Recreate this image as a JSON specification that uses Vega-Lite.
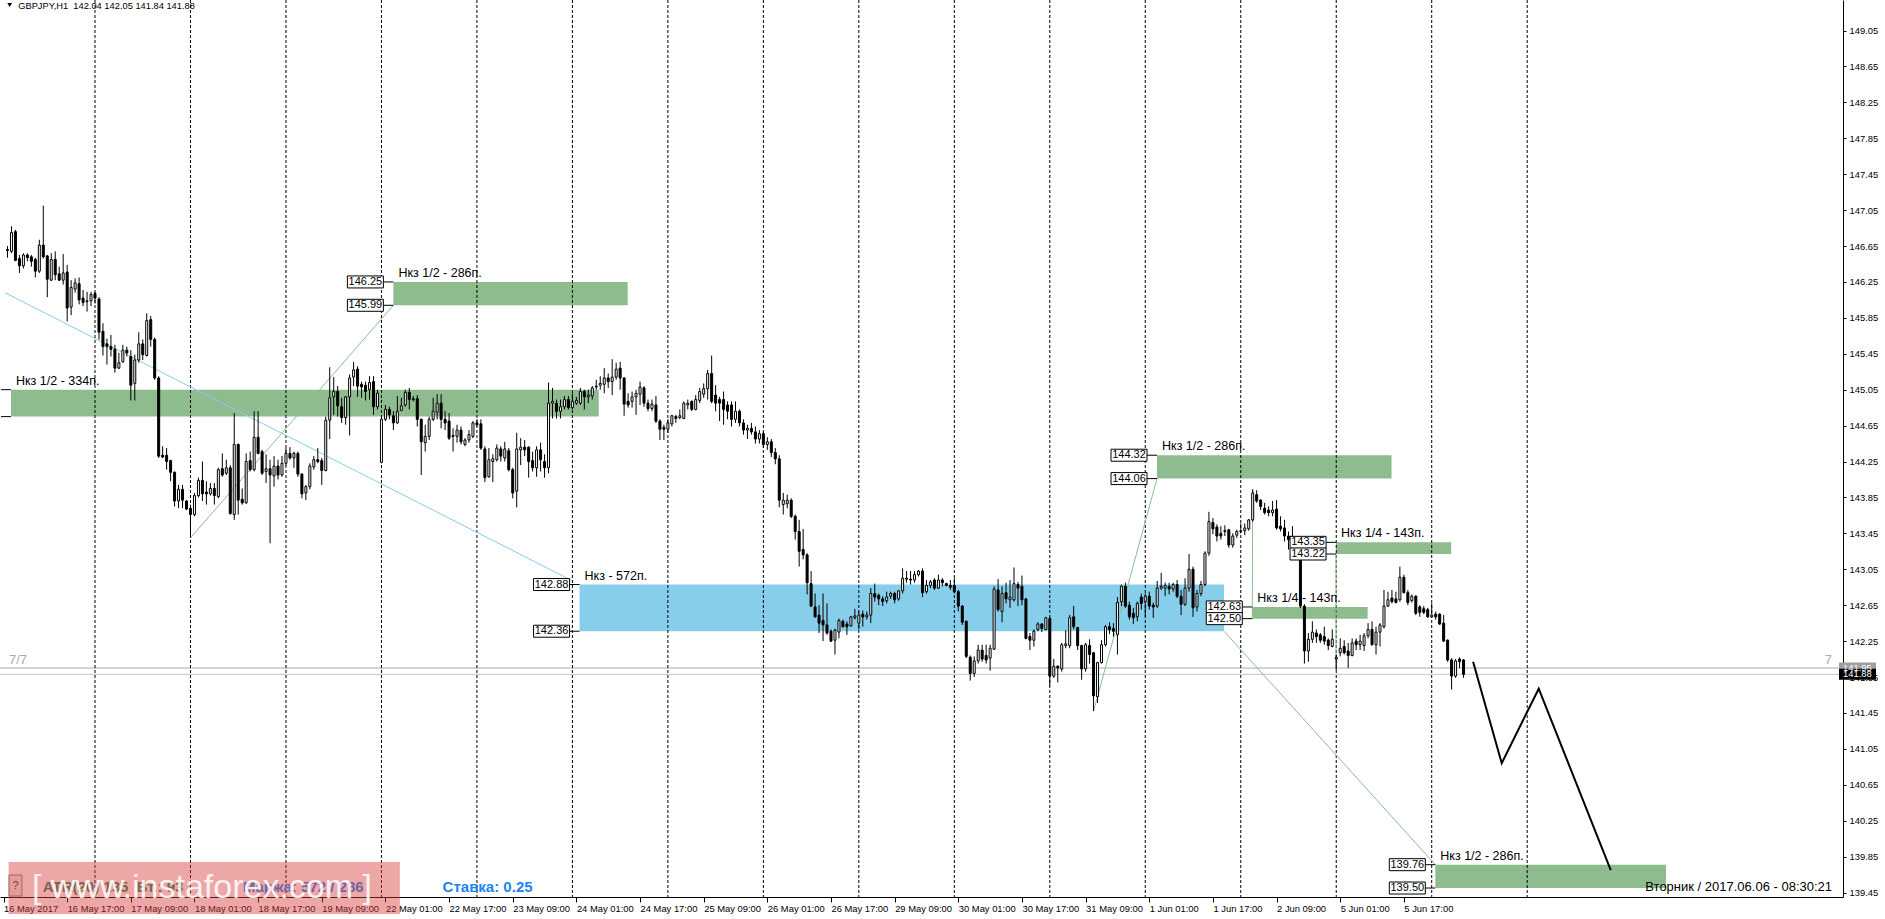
{
"$schema": "https://vega.github.io/schema/vega-lite/v6.json",
"width": 1843, "height": 897,
"autosize": {"type": "none"},
"padding": {"left": 0, "top": 0, "right": 42, "bottom": 22},
"background": "white",
"config": {"view": {"stroke": null}, "font": "Liberation Sans", "axis": {"labelOverlap": false, "labelFlush": false, "labelBound": false, "grid": false}},
"resolve": {"axis": {"x": "independent", "y": "independent"}},
"datasets": {
"candles": [
{"i":1,"o":146.61,"h":146.65,"l":146.52,"c":146.60},
{"i":2,"o":146.59,"h":146.87,"l":146.57,"c":146.80},
{"i":3,"o":146.81,"h":146.83,"l":146.48,"c":146.49},
{"i":4,"o":146.51,"h":146.55,"l":146.35,"c":146.43},
{"i":5,"o":146.43,"h":146.57,"l":146.40,"c":146.55},
{"i":6,"o":146.55,"h":146.57,"l":146.48,"c":146.52},
{"i":7,"o":146.53,"h":146.55,"l":146.42,"c":146.48},
{"i":8,"o":146.50,"h":146.52,"l":146.30,"c":146.37},
{"i":9,"o":146.37,"h":146.72,"l":146.35,"c":146.66},
{"i":10,"o":146.66,"h":147.10,"l":146.51,"c":146.53},
{"i":11,"o":146.54,"h":146.55,"l":146.08,"c":146.28},
{"i":12,"o":146.27,"h":146.57,"l":146.26,"c":146.50},
{"i":13,"o":146.50,"h":146.59,"l":146.27,"c":146.33},
{"i":14,"o":146.34,"h":146.42,"l":146.26,"c":146.27},
{"i":15,"o":146.27,"h":146.56,"l":146.22,"c":146.35},
{"i":16,"o":146.36,"h":146.44,"l":145.81,"c":145.96},
{"i":17,"o":145.97,"h":146.27,"l":145.88,"c":146.19},
{"i":18,"o":146.17,"h":146.29,"l":146.13,"c":146.24},
{"i":19,"o":146.23,"h":146.30,"l":146.00,"c":146.05},
{"i":20,"o":146.07,"h":146.16,"l":145.98,"c":146.02},
{"i":21,"o":146.03,"h":146.14,"l":145.92,"c":146.04},
{"i":22,"o":146.04,"h":146.14,"l":145.98,"c":146.11},
{"i":23,"o":146.12,"h":146.14,"l":146.01,"c":146.07},
{"i":24,"o":146.06,"h":146.08,"l":145.61,"c":145.69},
{"i":25,"o":145.70,"h":145.79,"l":145.43,"c":145.53},
{"i":26,"o":145.56,"h":145.62,"l":145.33,"c":145.53},
{"i":27,"o":145.53,"h":145.66,"l":145.42,"c":145.50},
{"i":28,"o":145.50,"h":145.55,"l":145.24,"c":145.29},
{"i":29,"o":145.29,"h":145.46,"l":145.28,"c":145.35},
{"i":30,"o":145.36,"h":145.55,"l":145.35,"c":145.49},
{"i":31,"o":145.49,"h":145.53,"l":145.42,"c":145.46},
{"i":32,"o":145.42,"h":145.49,"l":144.93,"c":145.10},
{"i":33,"o":145.12,"h":145.44,"l":144.93,"c":145.38},
{"i":34,"o":145.38,"h":145.69,"l":145.35,"c":145.56},
{"i":35,"o":145.56,"h":145.61,"l":145.38,"c":145.44},
{"i":36,"o":145.43,"h":145.90,"l":145.42,"c":145.82},
{"i":37,"o":145.83,"h":145.87,"l":145.53,"c":145.61},
{"i":38,"o":145.61,"h":145.63,"l":145.16,"c":145.18},
{"i":39,"o":145.18,"h":145.20,"l":144.29,"c":144.31},
{"i":40,"o":144.32,"h":144.42,"l":144.29,"c":144.30},
{"i":41,"o":144.32,"h":144.40,"l":144.16,"c":144.25},
{"i":42,"o":144.26,"h":144.27,"l":144.03,"c":144.13},
{"i":43,"o":144.13,"h":144.14,"l":143.75,"c":143.81},
{"i":44,"o":143.81,"h":143.99,"l":143.73,"c":143.94},
{"i":45,"o":143.94,"h":143.99,"l":143.73,"c":143.82},
{"i":46,"o":143.81,"h":143.82,"l":143.71,"c":143.72},
{"i":47,"o":143.73,"h":143.77,"l":143.40,"c":143.66},
{"i":48,"o":143.66,"h":143.90,"l":143.64,"c":143.87},
{"i":49,"o":143.87,"h":144.07,"l":143.85,"c":144.04},
{"i":50,"o":144.04,"h":144.25,"l":143.81,"c":143.89},
{"i":51,"o":143.91,"h":144.03,"l":143.77,"c":143.89},
{"i":52,"o":143.89,"h":144.01,"l":143.87,"c":143.95},
{"i":53,"o":143.95,"h":144.01,"l":143.77,"c":143.87},
{"i":54,"o":143.86,"h":144.18,"l":143.84,"c":144.16},
{"i":55,"o":144.17,"h":144.34,"l":144.08,"c":144.10},
{"i":56,"o":144.12,"h":144.27,"l":144.10,"c":144.18},
{"i":57,"o":144.18,"h":144.21,"l":143.66,"c":143.67},
{"i":58,"o":143.66,"h":144.79,"l":143.60,"c":144.44},
{"i":59,"o":144.44,"h":144.45,"l":143.66,"c":143.82},
{"i":60,"o":143.83,"h":143.95,"l":143.77,"c":143.79},
{"i":61,"o":143.79,"h":144.34,"l":143.78,"c":144.25},
{"i":62,"o":144.26,"h":144.36,"l":144.14,"c":144.16},
{"i":63,"o":144.16,"h":144.81,"l":144.14,"c":144.52},
{"i":64,"o":144.52,"h":144.81,"l":144.33,"c":144.34},
{"i":65,"o":144.36,"h":144.38,"l":144.10,"c":144.12},
{"i":66,"o":144.14,"h":144.33,"l":144.01,"c":144.17},
{"i":67,"o":144.17,"h":144.27,"l":143.34,"c":144.10},
{"i":68,"o":144.09,"h":144.31,"l":143.97,"c":144.20},
{"i":69,"o":144.20,"h":144.27,"l":144.05,"c":144.10},
{"i":70,"o":144.10,"h":144.31,"l":144.08,"c":144.23},
{"i":71,"o":144.23,"h":144.40,"l":144.20,"c":144.34},
{"i":72,"o":144.34,"h":144.41,"l":144.27,"c":144.29},
{"i":73,"o":144.29,"h":144.36,"l":144.18,"c":144.34},
{"i":74,"o":144.34,"h":144.36,"l":144.08,"c":144.11},
{"i":75,"o":144.11,"h":144.12,"l":143.84,"c":143.89},
{"i":76,"o":143.90,"h":143.99,"l":143.82,"c":143.97},
{"i":77,"o":143.97,"h":144.23,"l":143.94,"c":144.20},
{"i":78,"o":144.19,"h":144.31,"l":144.16,"c":144.27},
{"i":79,"o":144.27,"h":144.40,"l":144.23,"c":144.25},
{"i":80,"o":144.26,"h":144.29,"l":143.99,"c":144.15},
{"i":81,"o":144.15,"h":144.75,"l":144.14,"c":144.71},
{"i":82,"o":144.71,"h":145.30,"l":144.50,"c":144.96},
{"i":83,"o":144.97,"h":145.19,"l":144.77,"c":145.03},
{"i":84,"o":145.03,"h":145.09,"l":144.75,"c":144.87},
{"i":85,"o":144.86,"h":144.96,"l":144.68,"c":144.74},
{"i":86,"o":144.74,"h":144.98,"l":144.66,"c":144.97},
{"i":87,"o":144.97,"h":145.22,"l":144.54,"c":145.18},
{"i":88,"o":145.19,"h":145.36,"l":145.09,"c":145.27},
{"i":89,"o":145.28,"h":145.31,"l":144.97,"c":145.09},
{"i":90,"o":145.11,"h":145.14,"l":144.96,"c":145.08},
{"i":91,"o":145.10,"h":145.14,"l":144.93,"c":145.03},
{"i":92,"o":145.05,"h":145.20,"l":144.94,"c":145.13},
{"i":93,"o":145.14,"h":145.20,"l":144.77,"c":144.86},
{"i":94,"o":144.86,"h":145.05,"l":144.83,"c":145.01},
{"i":95,"o":144.24,"h":144.75,"l":144.23,"c":144.72},
{"i":96,"o":144.72,"h":144.88,"l":144.70,"c":144.83},
{"i":97,"o":144.83,"h":144.86,"l":144.72,"c":144.77},
{"i":98,"o":144.76,"h":144.81,"l":144.60,"c":144.68},
{"i":99,"o":144.68,"h":144.98,"l":144.67,"c":144.81},
{"i":100,"o":144.82,"h":144.96,"l":144.81,"c":144.87},
{"i":101,"o":144.88,"h":145.05,"l":144.86,"c":145.02},
{"i":102,"o":145.02,"h":145.07,"l":144.83,"c":144.94},
{"i":103,"o":144.94,"h":144.98,"l":144.92,"c":144.95},
{"i":104,"o":144.95,"h":144.99,"l":144.64,"c":144.72},
{"i":105,"o":144.72,"h":144.73,"l":144.10,"c":144.47},
{"i":106,"o":144.46,"h":144.66,"l":144.36,"c":144.53},
{"i":107,"o":144.53,"h":144.75,"l":144.49,"c":144.72},
{"i":108,"o":144.72,"h":144.96,"l":144.70,"c":144.81},
{"i":109,"o":144.80,"h":145.00,"l":144.72,"c":144.90},
{"i":110,"o":144.90,"h":145.00,"l":144.62,"c":144.72},
{"i":111,"o":144.72,"h":144.81,"l":144.60,"c":144.68},
{"i":112,"o":144.70,"h":144.79,"l":144.49,"c":144.51},
{"i":113,"o":144.54,"h":144.62,"l":144.36,"c":144.53},
{"i":114,"o":144.53,"h":144.66,"l":144.46,"c":144.60},
{"i":115,"o":144.60,"h":144.64,"l":144.44,"c":144.47},
{"i":116,"o":144.44,"h":144.51,"l":144.42,"c":144.49},
{"i":117,"o":144.49,"h":144.60,"l":144.46,"c":144.55},
{"i":118,"o":144.53,"h":144.70,"l":144.51,"c":144.68},
{"i":119,"o":144.68,"h":144.72,"l":144.64,"c":144.66},
{"i":120,"o":144.67,"h":144.72,"l":144.38,"c":144.40},
{"i":121,"o":144.39,"h":144.42,"l":144.02,"c":144.07},
{"i":122,"o":144.08,"h":144.40,"l":144.07,"c":144.27},
{"i":123,"o":144.25,"h":144.33,"l":144.02,"c":144.28},
{"i":124,"o":144.27,"h":144.44,"l":144.25,"c":144.40},
{"i":125,"o":144.39,"h":144.42,"l":144.25,"c":144.31},
{"i":126,"o":144.29,"h":144.47,"l":144.25,"c":144.39},
{"i":127,"o":144.37,"h":144.40,"l":144.14,"c":144.16},
{"i":128,"o":144.16,"h":144.18,"l":143.84,"c":143.90},
{"i":129,"o":143.92,"h":144.57,"l":143.74,"c":144.39},
{"i":130,"o":144.38,"h":144.51,"l":144.21,"c":144.41},
{"i":131,"o":144.41,"h":144.49,"l":144.31,"c":144.38},
{"i":132,"o":144.41,"h":144.42,"l":144.07,"c":144.25},
{"i":133,"o":144.26,"h":144.36,"l":144.14,"c":144.18},
{"i":134,"o":144.18,"h":144.42,"l":144.08,"c":144.38},
{"i":135,"o":144.38,"h":144.46,"l":144.14,"c":144.27},
{"i":136,"o":144.25,"h":144.33,"l":144.07,"c":144.18},
{"i":137,"o":144.18,"h":145.13,"l":144.12,"c":144.90},
{"i":138,"o":144.90,"h":145.07,"l":144.73,"c":144.92},
{"i":139,"o":144.90,"h":144.94,"l":144.73,"c":144.81},
{"i":140,"o":144.81,"h":144.94,"l":144.73,"c":144.86},
{"i":141,"o":144.86,"h":144.98,"l":144.83,"c":144.94},
{"i":142,"o":144.94,"h":144.98,"l":144.83,"c":144.85},
{"i":143,"o":144.85,"h":145.01,"l":144.83,"c":144.92},
{"i":144,"o":144.90,"h":144.97,"l":144.88,"c":144.93},
{"i":145,"o":144.90,"h":145.07,"l":144.88,"c":145.03},
{"i":146,"o":145.03,"h":145.05,"l":144.83,"c":144.97},
{"i":147,"o":144.97,"h":145.05,"l":144.90,"c":144.99},
{"i":148,"o":144.98,"h":145.09,"l":144.94,"c":145.07},
{"i":149,"o":145.08,"h":145.16,"l":145.05,"c":145.09},
{"i":150,"o":145.10,"h":145.20,"l":145.05,"c":145.12},
{"i":151,"o":145.11,"h":145.29,"l":145.01,"c":145.18},
{"i":152,"o":145.18,"h":145.23,"l":145.07,"c":145.14},
{"i":153,"o":145.14,"h":145.39,"l":144.99,"c":145.19},
{"i":154,"o":145.19,"h":145.35,"l":145.16,"c":145.28},
{"i":155,"o":145.29,"h":145.36,"l":145.05,"c":145.18},
{"i":156,"o":145.18,"h":145.19,"l":144.76,"c":144.89},
{"i":157,"o":144.92,"h":145.01,"l":144.85,"c":144.88},
{"i":158,"o":144.92,"h":145.03,"l":144.85,"c":144.97},
{"i":159,"o":144.97,"h":145.05,"l":144.77,"c":145.01},
{"i":160,"o":145.00,"h":145.14,"l":144.88,"c":145.08},
{"i":161,"o":145.07,"h":145.09,"l":144.86,"c":144.90},
{"i":162,"o":144.90,"h":144.94,"l":144.81,"c":144.84},
{"i":163,"o":144.84,"h":144.94,"l":144.81,"c":144.89},
{"i":164,"o":144.88,"h":144.98,"l":144.68,"c":144.70},
{"i":165,"o":144.70,"h":144.72,"l":144.49,"c":144.61},
{"i":166,"o":144.63,"h":144.66,"l":144.49,"c":144.61},
{"i":167,"o":144.61,"h":144.72,"l":144.57,"c":144.68},
{"i":168,"o":144.67,"h":144.77,"l":144.64,"c":144.76},
{"i":169,"o":144.75,"h":144.77,"l":144.68,"c":144.73},
{"i":170,"o":144.74,"h":144.83,"l":144.72,"c":144.76},
{"i":171,"o":144.73,"h":144.92,"l":144.72,"c":144.90},
{"i":172,"o":144.88,"h":144.94,"l":144.83,"c":144.90},
{"i":173,"o":144.92,"h":144.93,"l":144.81,"c":144.83},
{"i":174,"o":144.83,"h":144.99,"l":144.82,"c":144.94},
{"i":175,"o":144.93,"h":145.07,"l":144.90,"c":145.03},
{"i":176,"o":145.00,"h":145.12,"l":144.96,"c":145.06},
{"i":177,"o":145.06,"h":145.27,"l":144.94,"c":145.23},
{"i":178,"o":145.23,"h":145.43,"l":144.90,"c":144.92},
{"i":179,"o":144.99,"h":145.10,"l":144.81,"c":144.90},
{"i":180,"o":144.94,"h":144.97,"l":144.70,"c":144.90},
{"i":181,"o":144.94,"h":145.03,"l":144.66,"c":144.83},
{"i":182,"o":144.88,"h":144.92,"l":144.72,"c":144.81},
{"i":183,"o":144.88,"h":144.92,"l":144.64,"c":144.72},
{"i":184,"o":144.72,"h":144.92,"l":144.68,"c":144.81},
{"i":185,"o":144.81,"h":144.83,"l":144.64,"c":144.68},
{"i":186,"o":144.68,"h":144.72,"l":144.55,"c":144.60},
{"i":187,"o":144.60,"h":144.66,"l":144.50,"c":144.62},
{"i":188,"o":144.62,"h":144.68,"l":144.55,"c":144.58},
{"i":189,"o":144.58,"h":144.64,"l":144.45,"c":144.50},
{"i":190,"o":144.50,"h":144.60,"l":144.45,"c":144.56},
{"i":191,"o":144.56,"h":144.58,"l":144.40,"c":144.44},
{"i":192,"o":144.44,"h":144.52,"l":144.38,"c":144.47},
{"i":193,"o":144.47,"h":144.50,"l":144.30,"c":144.35},
{"i":194,"o":144.35,"h":144.40,"l":144.22,"c":144.28},
{"i":195,"o":144.28,"h":144.32,"l":143.74,"c":143.82},
{"i":196,"o":143.77,"h":143.90,"l":143.66,"c":143.82},
{"i":197,"o":143.78,"h":143.88,"l":143.73,"c":143.82},
{"i":198,"o":143.82,"h":143.84,"l":143.62,"c":143.64},
{"i":199,"o":143.64,"h":143.66,"l":143.38,"c":143.47},
{"i":200,"o":143.47,"h":143.60,"l":143.08,"c":143.25},
{"i":201,"o":143.27,"h":143.50,"l":143.16,"c":143.21},
{"i":202,"o":143.21,"h":143.23,"l":142.77,"c":142.90},
{"i":203,"o":142.89,"h":143.03,"l":142.63,"c":142.64},
{"i":204,"o":142.63,"h":142.78,"l":142.51,"c":142.52},
{"i":205,"o":142.54,"h":142.65,"l":142.34,"c":142.45},
{"i":206,"o":142.48,"h":142.78,"l":142.25,"c":142.43},
{"i":207,"o":142.43,"h":142.67,"l":142.32,"c":142.34},
{"i":208,"o":142.36,"h":142.38,"l":142.24,"c":142.25},
{"i":209,"o":142.26,"h":142.39,"l":142.10,"c":142.37},
{"i":210,"o":142.35,"h":142.50,"l":142.28,"c":142.48},
{"i":211,"o":142.47,"h":142.49,"l":142.40,"c":142.41},
{"i":212,"o":142.44,"h":142.47,"l":142.32,"c":142.41},
{"i":213,"o":142.42,"h":142.53,"l":142.41,"c":142.52},
{"i":214,"o":142.51,"h":142.61,"l":142.49,"c":142.53},
{"i":215,"o":142.45,"h":142.58,"l":142.38,"c":142.54},
{"i":216,"o":142.55,"h":142.59,"l":142.41,"c":142.52},
{"i":217,"o":142.52,"h":142.58,"l":142.49,"c":142.54},
{"i":218,"o":142.54,"h":142.84,"l":142.45,"c":142.78},
{"i":219,"o":142.78,"h":142.89,"l":142.69,"c":142.74},
{"i":220,"o":142.76,"h":142.78,"l":142.65,"c":142.72},
{"i":221,"o":142.72,"h":142.75,"l":142.64,"c":142.69},
{"i":222,"o":142.70,"h":142.80,"l":142.67,"c":142.74},
{"i":223,"o":142.75,"h":142.80,"l":142.72,"c":142.78},
{"i":224,"o":142.78,"h":142.80,"l":142.67,"c":142.71},
{"i":225,"o":142.72,"h":142.82,"l":142.70,"c":142.81},
{"i":226,"o":142.81,"h":143.06,"l":142.78,"c":142.95},
{"i":227,"o":142.95,"h":143.03,"l":142.90,"c":142.94},
{"i":228,"o":142.94,"h":143.03,"l":142.88,"c":142.93},
{"i":229,"o":142.93,"h":143.03,"l":142.90,"c":142.99},
{"i":230,"o":142.99,"h":143.04,"l":142.97,"c":143.03},
{"i":231,"o":143.03,"h":143.06,"l":142.74,"c":142.79},
{"i":232,"o":142.80,"h":142.93,"l":142.78,"c":142.87},
{"i":233,"o":142.87,"h":142.93,"l":142.84,"c":142.91},
{"i":234,"o":142.93,"h":142.95,"l":142.82,"c":142.84},
{"i":235,"o":142.84,"h":142.99,"l":142.83,"c":142.93},
{"i":236,"o":142.93,"h":142.95,"l":142.86,"c":142.90},
{"i":237,"o":142.89,"h":142.90,"l":142.86,"c":142.87},
{"i":238,"o":142.87,"h":142.93,"l":142.82,"c":142.85},
{"i":239,"o":142.87,"h":142.95,"l":142.78,"c":142.80},
{"i":240,"o":142.80,"h":142.82,"l":142.58,"c":142.64},
{"i":241,"o":142.64,"h":142.65,"l":142.43,"c":142.46},
{"i":242,"o":142.47,"h":142.48,"l":142.06,"c":142.08},
{"i":243,"o":142.07,"h":142.09,"l":141.81,"c":141.89},
{"i":244,"o":141.89,"h":142.08,"l":141.85,"c":142.03},
{"i":245,"o":142.03,"h":142.21,"l":142.00,"c":142.15},
{"i":246,"o":142.15,"h":142.21,"l":142.02,"c":142.05},
{"i":247,"o":142.09,"h":142.21,"l":142.00,"c":142.04},
{"i":248,"o":142.06,"h":142.21,"l":141.92,"c":142.17},
{"i":249,"o":142.16,"h":142.86,"l":142.15,"c":142.83},
{"i":250,"o":142.82,"h":142.94,"l":142.58,"c":142.60},
{"i":251,"o":142.58,"h":142.86,"l":142.46,"c":142.78},
{"i":252,"o":142.79,"h":142.90,"l":142.67,"c":142.72},
{"i":253,"o":142.71,"h":142.93,"l":142.62,"c":142.74},
{"i":254,"o":142.71,"h":143.07,"l":142.69,"c":142.89},
{"i":255,"o":142.88,"h":142.91,"l":142.64,"c":142.84},
{"i":256,"o":142.86,"h":142.98,"l":142.65,"c":142.71},
{"i":257,"o":142.72,"h":142.73,"l":142.27,"c":142.28},
{"i":258,"o":142.30,"h":142.34,"l":142.15,"c":142.26},
{"i":259,"o":142.26,"h":142.38,"l":142.19,"c":142.36},
{"i":260,"o":142.38,"h":142.46,"l":142.36,"c":142.44},
{"i":261,"o":142.44,"h":142.45,"l":142.35,"c":142.39},
{"i":262,"o":142.38,"h":142.52,"l":142.37,"c":142.51},
{"i":263,"o":142.50,"h":142.52,"l":141.75,"c":141.86},
{"i":264,"o":141.86,"h":142.05,"l":141.84,"c":141.97},
{"i":265,"o":141.97,"h":141.98,"l":141.79,"c":141.95},
{"i":266,"o":141.94,"h":142.23,"l":141.91,"c":142.21},
{"i":267,"o":142.20,"h":142.37,"l":142.17,"c":142.22},
{"i":268,"o":142.20,"h":142.54,"l":142.17,"c":142.51},
{"i":269,"o":142.52,"h":142.64,"l":142.38,"c":142.41},
{"i":270,"o":142.40,"h":142.41,"l":142.15,"c":142.20},
{"i":271,"o":142.20,"h":142.21,"l":141.82,"c":141.94},
{"i":272,"o":141.94,"h":142.23,"l":141.91,"c":142.21},
{"i":273,"o":142.20,"h":142.27,"l":142.00,"c":142.10},
{"i":274,"o":142.12,"h":142.13,"l":141.47,"c":141.64},
{"i":275,"o":141.63,"h":142.02,"l":141.56,"c":142.01},
{"i":276,"o":142.01,"h":142.26,"l":142.00,"c":142.21},
{"i":277,"o":142.21,"h":142.43,"l":142.19,"c":142.41},
{"i":278,"o":142.41,"h":142.46,"l":142.33,"c":142.38},
{"i":279,"o":142.39,"h":142.45,"l":142.30,"c":142.36},
{"i":280,"o":142.32,"h":142.74,"l":142.10,"c":142.68},
{"i":281,"o":142.69,"h":142.88,"l":142.64,"c":142.86},
{"i":282,"o":142.86,"h":142.90,"l":142.62,"c":142.64},
{"i":283,"o":142.65,"h":142.69,"l":142.49,"c":142.52},
{"i":284,"o":142.56,"h":142.62,"l":142.44,"c":142.51},
{"i":285,"o":142.52,"h":142.69,"l":142.47,"c":142.67},
{"i":286,"o":142.74,"h":142.78,"l":142.60,"c":142.67},
{"i":287,"o":142.69,"h":142.78,"l":142.52,"c":142.75},
{"i":288,"o":142.75,"h":142.80,"l":142.60,"c":142.64},
{"i":289,"o":142.65,"h":142.68,"l":142.51,"c":142.63},
{"i":290,"o":142.64,"h":142.92,"l":142.62,"c":142.84},
{"i":291,"o":142.84,"h":143.01,"l":142.82,"c":142.86},
{"i":292,"o":142.84,"h":142.90,"l":142.75,"c":142.87},
{"i":293,"o":142.86,"h":142.90,"l":142.77,"c":142.83},
{"i":294,"o":142.83,"h":142.90,"l":142.80,"c":142.88},
{"i":295,"o":142.88,"h":142.93,"l":142.73,"c":142.75},
{"i":296,"o":142.75,"h":142.82,"l":142.54,"c":142.66},
{"i":297,"o":142.66,"h":142.95,"l":142.64,"c":142.84},
{"i":298,"o":142.84,"h":143.22,"l":142.80,"c":143.05},
{"i":299,"o":143.05,"h":143.08,"l":142.52,"c":142.62},
{"i":300,"o":142.63,"h":142.82,"l":142.58,"c":142.78},
{"i":301,"o":142.78,"h":142.92,"l":142.75,"c":142.88},
{"i":302,"o":142.88,"h":143.25,"l":142.86,"c":143.23},
{"i":303,"o":143.23,"h":143.69,"l":143.20,"c":143.58},
{"i":304,"o":143.57,"h":143.62,"l":143.44,"c":143.50},
{"i":305,"o":143.52,"h":143.55,"l":143.36,"c":143.42},
{"i":306,"o":143.45,"h":143.53,"l":143.38,"c":143.42},
{"i":307,"o":143.48,"h":143.54,"l":143.42,"c":143.47},
{"i":308,"o":143.49,"h":143.50,"l":143.29,"c":143.32},
{"i":309,"o":143.32,"h":143.45,"l":143.29,"c":143.42},
{"i":310,"o":143.43,"h":143.49,"l":143.40,"c":143.47},
{"i":311,"o":143.47,"h":143.56,"l":143.45,"c":143.48},
{"i":312,"o":143.48,"h":143.56,"l":143.43,"c":143.51},
{"i":313,"o":143.50,"h":143.61,"l":143.48,"c":143.60},
{"i":314,"o":143.60,"h":143.94,"l":143.58,"c":143.90},
{"i":315,"o":143.88,"h":143.93,"l":143.79,"c":143.81},
{"i":316,"o":143.82,"h":143.83,"l":143.71,"c":143.75},
{"i":317,"o":143.73,"h":143.79,"l":143.66,"c":143.68},
{"i":318,"o":143.71,"h":143.75,"l":143.64,"c":143.68},
{"i":319,"o":143.68,"h":143.81,"l":143.64,"c":143.71},
{"i":320,"o":143.72,"h":143.82,"l":143.49,"c":143.51},
{"i":321,"o":143.53,"h":143.64,"l":143.47,"c":143.50},
{"i":322,"o":143.51,"h":143.60,"l":143.36,"c":143.42},
{"i":323,"o":143.42,"h":143.47,"l":143.27,"c":143.38},
{"i":324,"o":143.41,"h":143.53,"l":143.27,"c":143.30},
{"i":325,"o":143.32,"h":143.36,"l":143.25,"c":143.29},
{"i":326,"o":143.29,"h":143.32,"l":142.62,"c":142.64},
{"i":327,"o":142.64,"h":142.66,"l":142.00,"c":142.14},
{"i":328,"o":142.14,"h":142.34,"l":142.02,"c":142.27},
{"i":329,"o":142.27,"h":142.47,"l":142.23,"c":142.35},
{"i":330,"o":142.34,"h":142.38,"l":142.23,"c":142.30},
{"i":331,"o":142.32,"h":142.34,"l":142.23,"c":142.26},
{"i":332,"o":142.30,"h":142.41,"l":142.21,"c":142.25},
{"i":333,"o":142.26,"h":142.28,"l":142.15,"c":142.20},
{"i":334,"o":142.19,"h":142.38,"l":142.18,"c":142.27},
{"i":335,"o":142.05,"h":142.10,"l":141.93,"c":142.07},
{"i":336,"o":142.12,"h":142.28,"l":142.08,"c":142.17},
{"i":337,"o":142.19,"h":142.26,"l":142.10,"c":142.12},
{"i":338,"o":142.14,"h":142.23,"l":141.95,"c":142.09},
{"i":339,"o":142.09,"h":142.28,"l":142.08,"c":142.23},
{"i":340,"o":142.25,"h":142.28,"l":142.15,"c":142.21},
{"i":341,"o":142.21,"h":142.32,"l":142.15,"c":142.25},
{"i":342,"o":142.20,"h":142.34,"l":142.14,"c":142.31},
{"i":343,"o":142.31,"h":142.45,"l":142.28,"c":142.38},
{"i":344,"o":142.38,"h":142.47,"l":142.20,"c":142.21},
{"i":345,"o":142.21,"h":142.41,"l":142.10,"c":142.35},
{"i":346,"o":142.35,"h":142.45,"l":142.19,"c":142.43},
{"i":347,"o":142.41,"h":142.82,"l":142.39,"c":142.64},
{"i":348,"o":142.64,"h":142.80,"l":142.63,"c":142.71},
{"i":349,"o":142.73,"h":142.82,"l":142.67,"c":142.69},
{"i":350,"o":142.72,"h":142.80,"l":142.67,"c":142.68},
{"i":351,"o":142.71,"h":143.08,"l":142.69,"c":142.96},
{"i":352,"o":142.96,"h":142.99,"l":142.78,"c":142.79},
{"i":353,"o":142.79,"h":142.82,"l":142.65,"c":142.68},
{"i":354,"o":142.70,"h":142.77,"l":142.68,"c":142.75},
{"i":355,"o":142.75,"h":142.76,"l":142.54,"c":142.56},
{"i":356,"o":142.63,"h":142.65,"l":142.52,"c":142.57},
{"i":357,"o":142.61,"h":142.64,"l":142.55,"c":142.57},
{"i":358,"o":142.60,"h":142.62,"l":142.51,"c":142.52},
{"i":359,"o":142.52,"h":142.67,"l":142.51,"c":142.54},
{"i":360,"o":142.55,"h":142.58,"l":142.49,"c":142.52},
{"i":361,"o":142.55,"h":142.56,"l":142.43,"c":142.44},
{"i":362,"o":142.45,"h":142.54,"l":142.24,"c":142.25},
{"i":363,"o":142.26,"h":142.27,"l":142.02,"c":142.04},
{"i":364,"o":142.04,"h":142.06,"l":141.71,"c":141.86},
{"i":365,"o":141.86,"h":142.05,"l":141.84,"c":142.03},
{"i":366,"o":142.05,"h":142.07,"l":141.95,"c":142.02},
{"i":367,"o":142.04,"h":142.05,"l":141.84,"c":141.88}
],
"zones": [
{"i":1.875,"i2":149.625,"p":145.05,"p2":144.75,"k":"g"},
{"i":98.0,"i2":156.9,"p":146.25,"p2":145.99,"k":"g"},
{"i":144.8,"i2":306.8,"p":142.88,"p2":142.36,"k":"b"},
{"i":289.95,"i2":348.9,"p":144.32,"p2":144.06,"k":"g"},
{"i":334.95,"i2":363.9,"p":143.35,"p2":143.22,"k":"g"},
{"i":313.9,"i2":342.9,"p":142.63,"p2":142.50,"k":"g"},
{"i":359.9,"i2":417.9,"p":139.76,"p2":139.50,"k":"g"}
],
"zoneLabels": [
{"i":1.875,"p":145.05,"t":"Нкз 1/2 - 334п."},
{"i":98.0,"p":146.25,"t":"Нкз 1/2 - 286п."},
{"i":144.8,"p":142.88,"t":"Нкз - 572п."},
{"i":289.95,"p":144.32,"t":"Нкз 1/2 - 286п."},
{"i":334.95,"p":143.35,"t":"Нкз 1/4 - 143п."},
{"i":313.9,"p":142.63,"t":"Нкз 1/4 - 143п."},
{"i":359.9,"p":139.76,"t":"Нкз 1/2 - 286п."}
],
"boxes": [
{"i":1.875,"p":145.05},{"i":1.875,"p":144.75},
{"i":98.0,"p":146.25},{"i":98.0,"p":145.99},
{"i":144.8,"p":142.88},{"i":144.8,"p":142.36},
{"i":289.95,"p":144.32},{"i":289.95,"p":144.06},
{"i":313.9,"p":142.63},{"i":313.9,"p":142.50},
{"i":334.95,"p":143.35},{"i":334.95,"p":143.22},
{"i":359.9,"p":139.76},{"i":359.9,"p":139.50}
],
"seps": [{"i":23},{"i":47},{"i":71},{"i":95},{"i":119},{"i":143},{"i":167},{"i":191},{"i":215},{"i":239},{"i":263},{"i":287},{"i":311},{"i":335},{"i":359},{"i":383}],
"lines": [
{"id":"blue","o":0,"i":0.375,"p":146.13},{"id":"blue","o":1,"i":142.6,"p":142.93},
{"id":"g1","o":0,"i":47,"p":143.40},{"id":"g1","o":1,"i":98.0,"p":145.99},
{"id":"g2","o":0,"i":274,"p":141.47},{"id":"g2","o":1,"i":289.95,"p":144.06},
{"id":"g3","o":0,"i":314,"p":143.94},{"id":"g3","o":1,"i":313.9,"p":142.50},
{"id":"g4","o":0,"i":334.95,"p":143.22},{"id":"g4","o":1,"i":334.95,"p":141.93},
{"id":"g5","o":0,"i":306.8,"p":142.36},{"id":"g5","o":1,"i":359.9,"p":139.76},
{"id":"proj","o":0,"i":369.4,"p":142.02},{"id":"proj","o":1,"i":376.6,"p":140.89},{"id":"proj","o":2,"i":385.9,"p":141.72},{"id":"proj","o":3,"i":404.0,"p":139.70}
],
"hlines": [{"p":141.95,"k":"ask"},{"p":141.88,"k":"bid"}],
"tags": [{"i":461.125,"p":141.95,"k":"ask"},{"i":461.125,"p":141.88,"k":"bid"}],
"notes": [
{"k":"title","i":3.7,"p":149.32,"t":"GBPJPY,H1\u00a0 142.04 142.05 141.84 141.88"},
{"k":"tri","i":1.55,"p":149.335,"t":""},
{"k":"sevenL","i":1.375,"p":142.0,"t":"7/7"},
{"k":"sevenR","i":459.625,"p":142.0,"t":"7"},
{"k":"qbox","i":1.375,"i2":4.625,"p":139.645,"p2":139.411,"t":""},
{"k":"q","i":3.0,"p":139.528,"t":"?"},
{"k":"atr","i":9.875,"p":139.511,"t":"ATR(20) 135\u00a0 Вт.: 93"},
{"k":"marzha","i":60.125,"p":139.511,"t":"Маржа: 572 / 286"},
{"k":"stavka","i":110.375,"p":139.511,"t":"Ставка: 0.25"},
{"k":"date","i":459.625,"p":139.467,"t":"Вторник / 2017.06.06 - 08:30:21"},
{"k":"wm","i":1.275,"i2":99.625,"p":139.79,"p2":139.211,"t":""},
{"k":"wmt","i":49.875,"p":139.502,"t":"[ www.instaforex.com ]"}
]
},
"layer": [
{"data":{"name":"zones"},"mark":{"type":"rect","clip":true,"color":"#8fbc8f"},
 "transform":[{"filter":"datum.k == 'g'"}],
 "encoding":{
  "x":{"field":"i","type":"quantitative","title":null,"scale":{"domain":[0.375,461.125],"nice":false,"zero":false},
   "axis":{"title":null,"orient":"bottom","values":[0,16,32,48,64,80,96,112,128,144,160,176,192,208,224,240,256,272,288,304,320,336,352],
    "labelExpr":"['16 May 2017','16 May 17:00','17 May 09:00','18 May 01:00','18 May 17:00','19 May 09:00','22 May 01:00','22 May 17:00','23 May 09:00','24 May 01:00','24 May 17:00','25 May 09:00','26 May 01:00','26 May 17:00','29 May 09:00','30 May 01:00','30 May 17:00','31 May 09:00','1 Jun 01:00','1 Jun 17:00','2 Jun 09:00','5 Jun 01:00','5 Jun 17:00'][round(datum.value/16)]",
    "labelAlign":"left","labelDx":1,"labelPadding":2,"labelBaseline":"top","labelFont":"Liberation Sans","labelFontSize":9.4,"labelColor":"#000","tickColor":"#000","tickSize":5,"domainColor":"#000","grid":false,"labelOverlap":false,"labelFlush":false,"labelBound":false}},
  "x2":{"field":"i2"},
  "y":{"field":"p","type":"quantitative","title":null,"scale":{"domain":[139.40,149.39],"nice":false,"zero":false},
   "axis":{"title":null,"orient":"right","values":[139.45,139.85,140.25,140.65,141.05,141.45,141.85,142.25,142.65,143.05,143.45,143.85,144.25,144.65,145.05,145.45,145.85,146.25,146.65,147.05,147.45,147.85,148.25,148.65,149.05],
    "format":".2f","labelFont":"Liberation Sans","labelFontSize":9.4,"labelColor":"#000","tickColor":"#000","tickSize":3,"labelPadding":3,"domainColor":"#000","grid":false,"labelOverlap":false,"labelFlush":false,"labelBound":false}},
  "y2":{"field":"p2"}}},
{"data":{"name":"zones"},"mark":{"type":"rect","clip":true,"color":"#87ceeb"},
 "transform":[{"filter":"datum.k == 'b'"}],
 "encoding":{
  "x":{"field":"i","type":"quantitative","axis":null,"scale":{"domain":[0.375,461.125],"nice":false,"zero":false}},
  "x2":{"field":"i2"},
  "y":{"field":"p","type":"quantitative","axis":null,"scale":{"domain":[139.40,149.39],"nice":false,"zero":false}},
  "y2":{"field":"p2"}}},
{"data":{"name":"hlines"},"mark":{"type":"rule","clip":true,"strokeWidth":1},
 "encoding":{
  "y":{"field":"p","type":"quantitative","axis":null,"scale":{"domain":[139.40,149.39],"nice":false,"zero":false}},
  "color":{"condition":{"test":"datum.k == 'ask'","value":"#a9a9a9"},"value":"#c4c4c4"}}},
{"data":{"name":"seps"},"mark":{"type":"rule","clip":true,"color":"#000","strokeWidth":1,"strokeDash":[3,2]},
 "encoding":{
  "x":{"field":"i","type":"quantitative","axis":null,"scale":{"domain":[0.375,461.125],"nice":false,"zero":false}}}},
{"data":{"name":"lines"},"mark":{"type":"line","clip":true,"strokeWidth":1,"color":"#87ceeb"},
 "transform":[{"filter":"datum.id == 'blue'"}],
 "encoding":{
  "x":{"field":"i","type":"quantitative","axis":null,"scale":{"domain":[0.375,461.125],"nice":false,"zero":false}},
  "y":{"field":"p","type":"quantitative","axis":null,"scale":{"domain":[139.40,149.39],"nice":false,"zero":false}},
  "detail":{"field":"id"},"order":{"field":"o"}}},
{"data":{"name":"lines"},"mark":{"type":"line","clip":true,"strokeWidth":1,"color":"#8fbc8f"},
 "transform":[{"filter":"datum.id != 'blue' && datum.id != 'proj'"}],
 "encoding":{
  "x":{"field":"i","type":"quantitative","axis":null,"scale":{"domain":[0.375,461.125],"nice":false,"zero":false}},
  "y":{"field":"p","type":"quantitative","axis":null,"scale":{"domain":[139.40,149.39],"nice":false,"zero":false}},
  "detail":{"field":"id"},"order":{"field":"o"}}},
{"data":{"name":"candles"},"mark":{"type":"rule","clip":true,"color":"#000","strokeWidth":1},
 "encoding":{
  "x":{"field":"i","type":"quantitative","axis":null,"scale":{"domain":[0.375,461.125],"nice":false,"zero":false}},
  "y":{"field":"l","type":"quantitative","axis":null,"scale":{"domain":[139.40,149.39],"nice":false,"zero":false}},
  "y2":{"field":"h"}}},
{"data":{"name":"candles"},"mark":{"type":"bar","clip":true,"width":2,"stroke":"#000","strokeWidth":1},
 "encoding":{
  "x":{"field":"i","type":"quantitative","axis":null,"scale":{"domain":[0.375,461.125],"nice":false,"zero":false}},
  "y":{"field":"o","type":"quantitative","axis":null,"scale":{"domain":[139.40,149.39],"nice":false,"zero":false}},
  "y2":{"field":"c"},
  "color":{"condition":{"test":"datum.c >= datum.o","value":"#ffffff"},"value":"#000000"}}},
{"data":{"name":"lines"},"mark":{"type":"line","clip":true,"strokeWidth":2,"color":"#000"},
 "transform":[{"filter":"datum.id == 'proj'"}],
 "encoding":{
  "x":{"field":"i","type":"quantitative","axis":null,"scale":{"domain":[0.375,461.125],"nice":false,"zero":false}},
  "y":{"field":"p","type":"quantitative","axis":null,"scale":{"domain":[139.40,149.39],"nice":false,"zero":false}},
  "order":{"field":"o"}}},
{"data":{"name":"boxes"},"mark":{"type":"rule","clip":true,"color":"#000","strokeWidth":1,"xOffset":-10,"x2Offset":0},
 "encoding":{
  "x":{"field":"i","type":"quantitative","axis":null,"scale":{"domain":[0.375,461.125],"nice":false,"zero":false}},
  "x2":{"field":"i"},
  "y":{"field":"p","type":"quantitative","axis":null,"scale":{"domain":[139.40,149.39],"nice":false,"zero":false}}}},
{"data":{"name":"boxes"},"transform":[{"filter":"datum.i > 10"}],"mark":{"type":"rect","clip":true,"fill":"#ffffff","stroke":"#000","strokeWidth":1,"xOffset":-46,"x2Offset":-10,"yOffset":-6,"y2Offset":6},
 "encoding":{
  "x":{"field":"i","type":"quantitative","axis":null,"scale":{"domain":[0.375,461.125],"nice":false,"zero":false}},
  "x2":{"field":"i"},
  "y":{"field":"p","type":"quantitative","axis":null,"scale":{"domain":[139.40,149.39],"nice":false,"zero":false}},
  "y2":{"field":"p"}}},
{"data":{"name":"boxes"},"transform":[{"filter":"datum.i > 10"}],"mark":{"type":"text","clip":true,"dx":-28,"align":"center","baseline":"middle","font":"Liberation Sans","fontSize":11,"color":"#000"},
 "encoding":{
  "x":{"field":"i","type":"quantitative","axis":null,"scale":{"domain":[0.375,461.125],"nice":false,"zero":false}},
  "y":{"field":"p","type":"quantitative","axis":null,"scale":{"domain":[139.40,149.39],"nice":false,"zero":false}},
  "text":{"field":"p","format":".2f"}}},
{"data":{"name":"zoneLabels"},"mark":{"type":"text","clip":true,"dx":5,"dy":-5,"align":"left","baseline":"alphabetic","font":"Liberation Sans","fontSize":12.5,"color":"#000"},
 "encoding":{
  "x":{"field":"i","type":"quantitative","axis":null,"scale":{"domain":[0.375,461.125],"nice":false,"zero":false}},
  "y":{"field":"p","type":"quantitative","axis":null,"scale":{"domain":[139.40,149.39],"nice":false,"zero":false}},
  "text":{"field":"t"}}},
{"data":{"name":"tags"},"mark":{"type":"rect","xOffset":1,"x2Offset":38,"yOffset":-5.5,"y2Offset":5.5},
 "encoding":{
  "x":{"field":"i","type":"quantitative","axis":null,"scale":{"domain":[0.375,461.125],"nice":false,"zero":false}},
  "x2":{"field":"i"},
  "y":{"field":"p","type":"quantitative","axis":null,"scale":{"domain":[139.40,149.39],"nice":false,"zero":false}},
  "y2":{"field":"p"},
  "color":{"condition":{"test":"datum.k == 'ask'","value":"#a0a0a0"},"value":"#000000"}}},
{"data":{"name":"tags"},"mark":{"type":"text","dx":5,"align":"left","baseline":"middle","font":"Liberation Sans","fontSize":9.4,"color":"#ffffff"},
 "encoding":{
  "x":{"field":"i","type":"quantitative","axis":null,"scale":{"domain":[0.375,461.125],"nice":false,"zero":false}},
  "y":{"field":"p","type":"quantitative","axis":null,"scale":{"domain":[139.40,149.39],"nice":false,"zero":false}},
  "text":{"field":"p","format":".2f"}}},
{"data":{"name":"notes"},"transform":[{"filter":"datum.k == 'title'"}],"mark":{"type":"text","align":"left","baseline":"middle","font":"Liberation Sans","fontSize":9.3,"color":"#000"},
 "encoding":{
  "x":{"field":"i","type":"quantitative","axis":null,"scale":{"domain":[0.375,461.125],"nice":false,"zero":false}},
  "y":{"field":"p","type":"quantitative","axis":null,"scale":{"domain":[139.40,149.39],"nice":false,"zero":false}},
  "text":{"field":"t"}}},
{"data":{"name":"notes"},"transform":[{"filter":"datum.k == 'tri'"}],"mark":{"type":"point","shape":"triangle-down","filled":true,"size":22,"color":"#000","opacity":1},
 "encoding":{
  "x":{"field":"i","type":"quantitative","axis":null,"scale":{"domain":[0.375,461.125],"nice":false,"zero":false}},
  "y":{"field":"p","type":"quantitative","axis":null,"scale":{"domain":[139.40,149.39],"nice":false,"zero":false}}}},
{"data":{"name":"notes"},"transform":[{"filter":"datum.k == 'sevenL'"}],"mark":{"type":"text","align":"left","baseline":"alphabetic","font":"Liberation Sans","fontSize":13,"color":"#a9a9a9"},
 "encoding":{
  "x":{"field":"i","type":"quantitative","axis":null,"scale":{"domain":[0.375,461.125],"nice":false,"zero":false}},
  "y":{"field":"p","type":"quantitative","axis":null,"scale":{"domain":[139.40,149.39],"nice":false,"zero":false}},
  "text":{"field":"t"}}},
{"data":{"name":"notes"},"transform":[{"filter":"datum.k == 'sevenR'"}],"mark":{"type":"text","align":"right","baseline":"alphabetic","font":"Liberation Sans","fontSize":13,"color":"#a9a9a9"},
 "encoding":{
  "x":{"field":"i","type":"quantitative","axis":null,"scale":{"domain":[0.375,461.125],"nice":false,"zero":false}},
  "y":{"field":"p","type":"quantitative","axis":null,"scale":{"domain":[139.40,149.39],"nice":false,"zero":false}},
  "text":{"field":"t"}}},
{"data":{"name":"notes"},"transform":[{"filter":"datum.k == 'qbox'"}],"mark":{"type":"rect","fill":"#ececec","stroke":"#808080","strokeWidth":1},
 "encoding":{
  "x":{"field":"i","type":"quantitative","axis":null,"scale":{"domain":[0.375,461.125],"nice":false,"zero":false}},
  "x2":{"field":"i2"},
  "y":{"field":"p","type":"quantitative","axis":null,"scale":{"domain":[139.40,149.39],"nice":false,"zero":false}},
  "y2":{"field":"p2"}}},
{"data":{"name":"notes"},"transform":[{"filter":"datum.k == 'q'"}],"mark":{"type":"text","align":"center","baseline":"middle","font":"Liberation Sans","fontSize":11,"color":"#333333"},
 "encoding":{
  "x":{"field":"i","type":"quantitative","axis":null,"scale":{"domain":[0.375,461.125],"nice":false,"zero":false}},
  "y":{"field":"p","type":"quantitative","axis":null,"scale":{"domain":[139.40,149.39],"nice":false,"zero":false}},
  "text":{"field":"t"}}},
{"data":{"name":"notes"},"transform":[{"filter":"datum.k == 'atr'"}],"mark":{"type":"text","align":"left","baseline":"middle","font":"Liberation Sans","fontSize":15,"fontWeight":"bold","color":"#2e8b57"},
 "encoding":{
  "x":{"field":"i","type":"quantitative","axis":null,"scale":{"domain":[0.375,461.125],"nice":false,"zero":false}},
  "y":{"field":"p","type":"quantitative","axis":null,"scale":{"domain":[139.40,149.39],"nice":false,"zero":false}},
  "text":{"field":"t"}}},
{"data":{"name":"notes"},"transform":[{"filter":"datum.k == 'marzha' || datum.k == 'stavka'"}],"mark":{"type":"text","align":"left","baseline":"middle","font":"Liberation Sans","fontSize":15,"fontWeight":"bold","color":"#1e84f0"},
 "encoding":{
  "x":{"field":"i","type":"quantitative","axis":null,"scale":{"domain":[0.375,461.125],"nice":false,"zero":false}},
  "y":{"field":"p","type":"quantitative","axis":null,"scale":{"domain":[139.40,149.39],"nice":false,"zero":false}},
  "text":{"field":"t"}}},
{"data":{"name":"notes"},"transform":[{"filter":"datum.k == 'date'"}],"mark":{"type":"text","align":"right","baseline":"alphabetic","font":"Liberation Sans","fontSize":13,"color":"#000"},
 "encoding":{
  "x":{"field":"i","type":"quantitative","axis":null,"scale":{"domain":[0.375,461.125],"nice":false,"zero":false}},
  "y":{"field":"p","type":"quantitative","axis":null,"scale":{"domain":[139.40,149.39],"nice":false,"zero":false}},
  "text":{"field":"t"}}},
{"data":{"name":"notes"},"transform":[{"filter":"datum.k == 'wm'"}],"mark":{"type":"rect","fill":"#d63c3c","opacity":0.45},
 "encoding":{
  "x":{"field":"i","type":"quantitative","axis":null,"scale":{"domain":[0.375,461.125],"nice":false,"zero":false}},
  "x2":{"field":"i2"},
  "y":{"field":"p","type":"quantitative","axis":null,"scale":{"domain":[139.40,149.39],"nice":false,"zero":false}},
  "y2":{"field":"p2"}}},
{"data":{"name":"notes"},"transform":[{"filter":"datum.k == 'wmt'"}],"mark":{"type":"text","align":"center","baseline":"middle","font":"Liberation Sans","fontSize":34,"color":"#ffffff","opacity":0.85},
 "encoding":{
  "x":{"field":"i","type":"quantitative","axis":null,"scale":{"domain":[0.375,461.125],"nice":false,"zero":false}},
  "y":{"field":"p","type":"quantitative","axis":null,"scale":{"domain":[139.40,149.39],"nice":false,"zero":false}},
  "text":{"field":"t"}}}
]
}
